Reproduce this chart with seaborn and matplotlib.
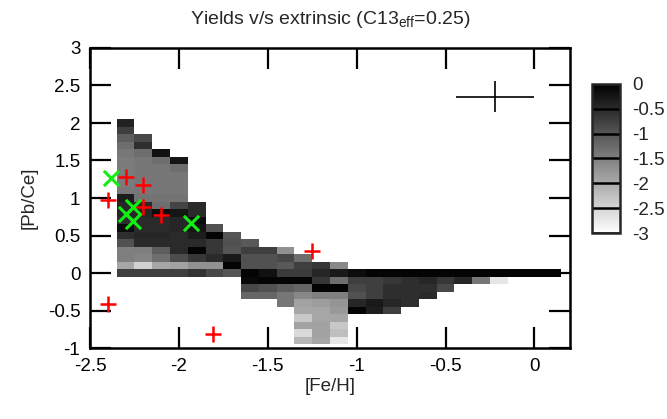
import numpy as np
import pandas as pd
import matplotlib
matplotlib.use("Agg")
import matplotlib.pyplot as plt
import seaborn as sns

# ---------------- data ----------------
# centre [Fe/H] of each grid column and [Pb/Ce] of the top cell in that column
col_feh = [-2.3, -2.2, -2.1, -2.0, -1.9, -1.8, -1.7, -1.6, -1.5, -1.4, -1.3, -1.2, -1.1,
           -1.0, -0.9, -0.8, -0.7, -0.6, -0.5, -0.4, -0.3, -0.2, -0.1, 0.0, 0.1]
col_top = [2.0, 1.8, 1.6, 1.5, 0.9, 0.6, 0.5, 0.4, 0.3, 0.3, 0.2, 0.1, 0.1,
           0.0, 0.0, 0.0, 0.0, 0.0, 0.0, 0.0, 0.0, 0.0, 0.0, 0.0, 0.0]
# cell values per column, top to bottom (0.1 dex steps in [Pb/Ce])
c_m23 = [-0.4, -0.75, -1.1, -1.3, -1.4, -1.45, -1.45, -1.45, -1.45, -1.4,
         -0.35, -0.45, -0.45, -0.55, -0.15, -0.55, -0.95, -1.5, -1.5, -1.95, -0.75]
c_m22 = [-0.85, -0.55, -1.3, -1.4, -1.4, -1.4, -1.4, -1.4, -1.35,
         -0.5, -0.45, -0.5, -0.5, -0.45, -0.5, -1.5, -1.55, -2.45, -0.75]
c_m21 = [-0.2, -1.3, -1.4, -1.4, -1.4, -1.4, -1.35, -1.3,
         -0.15, -0.5, -0.5, -0.45, -0.5, -1.1, -1.3, -1.95, -0.75]
c_m20 = [-0.25, -1.3, -1.4, -1.4, -1.4, -1.35, -0.8,
         -0.25, -0.45, -0.45, -0.5, -0.5, -0.5, -0.9, -1.9, -0.75]
c_m19 = [-0.5, -0.5, -0.15, -0.25, -0.35, -0.5, -0.05, -0.65, -1.7, -0.6]
c_m18 = [-0.95, -0.05, -0.65, -0.65, -0.5, -1.7, -0.85]
c_m17 = [-1.0, -0.95, -1.0, -0.3, -0.05, -1.0]
c_m16 = [-1.05, -0.75, -0.95, -0.95, -0.05, -0.1, -0.85, -1.2]
c_m15 = [-0.75, -0.95, -0.95, -0.2, -0.05, -0.95, -1.2]
c_m14 = [-1.7, -0.85, -1.05, -0.7, -0.05, -1.1, -1.4, -1.4]
c_m13 = [-1.3, -0.75, -0.7, -0.05, -1.2, -1.6, -1.9, -1.95, -2.35, -1.9, -2.55, -2.15]
c_m12 = [-0.65, -0.45, -0.65, -0.05, -1.5, -1.85, -1.95, -1.95, -1.9, -1.9, -1.95]
c_m11 = [-1.6, -0.3, -1.3, -0.05, -1.5, -1.75, -1.8, -1.95, -2.35, -2.25, -2.7]
c_m10 = [-0.15, -0.75, -0.85, -0.95, -0.45, -0.05]
c_m09 = [-0.05, -0.75, -0.75, -0.75, -0.3, -0.35]
c_m08 = [-0.05, -0.65, -0.55, -0.55, -0.45, -0.75]
c_m07 = [-0.05, -0.55, -0.55, -0.55, -0.55]
c_m06 = [-0.05, -0.45, -0.55, -0.5]
c_m05 = [-0.05, -0.65, -0.85]
c_m04 = [-0.05, -0.45]
c_m03 = [-0.05, -1.4]
c_m02 = [-0.05, -2.7]
c_m01 = [-0.05]
c_p00 = [-0.05]
c_p01 = [-0.05]
columns = [c_m23, c_m22, c_m21, c_m20, c_m19, c_m18, c_m17, c_m16, c_m15, c_m14,
           c_m13, c_m12, c_m11, c_m10, c_m09, c_m08, c_m07, c_m06, c_m05, c_m04,
           c_m03, c_m02, c_m01, c_p00, c_p01]

# observed extrinsic stars
obs_feh = [-2.40, -2.30, -2.20, -2.20, -2.10, -2.40, -1.81, -1.25]
obs_pbce = [0.97, 1.28, 1.17, 0.88, 0.77, -0.41, -0.81, 0.30]
# highlighted stars
hl_feh = [-2.38, -2.30, -2.26, -2.26, -1.93]
hl_pbce = [1.27, 0.79, 0.88, 0.69, 0.67]
# typical error
err_feh, err_pbce = [-0.22], [2.35]
err_dfeh, err_dpbce = [0.22], [0.21]

cbar_ticks = [0, -0.5, -1, -1.5, -2, -2.5, -3]
cbar_labels = ["0", "-0.5", "-1", "-1.5", "-2", "-2.5", "-3"]
x_ticks = [-2.5, -2, -1.5, -1, -0.5, 0]
x_labels = ["-2.5", "-2", "-1.5", "-1", "-0.5", "0"]
y_ticks = [-1, -0.5, 0, 0.5, 1, 1.5, 2, 2.5, 3]
y_labels = ["-1", "-0.5", "0", "0.5", "1", "1.5", "2", "2.5", "3"]

# ---------------- style ----------------
sns.set_style("ticks")
plt.rcParams["font.family"] = ["Liberation Sans", "DejaVu Sans"]
plt.rcParams["mathtext.fontset"] = "custom"
plt.rcParams["mathtext.rm"] = "Liberation Sans"
plt.rcParams["mathtext.it"] = "Liberation Sans"
plt.rcParams["axes.unicode_minus"] = False
FS = 13.5

rows = []
for x, top, vals in zip(col_feh, col_top, columns):
    for i, v in enumerate(vals):
        rows.append((x, round(top - 0.1 * i, 2), v))
df = pd.DataFrame(rows, columns=["feh", "pbce", "w"])
ycent = np.round(np.arange(-0.9, 2.05, 0.1), 1)
grid = df.pivot(index="pbce", columns="feh", values="w").reindex(ycent)
xc = np.array(grid.columns, dtype=float)
xedges = np.append(xc - 0.05, xc[-1] + 0.05)
yedges = np.append(ycent - 0.05, ycent[-1] + 0.05)

fig = plt.figure(figsize=(6.67, 4.19), dpi=100)
ax = fig.add_axes([90 / 667, 1 - 348 / 419, 480 / 667, 300 / 419])

mesh = ax.pcolormesh(xedges, yedges, grid.values, cmap="gray_r", vmin=-3, vmax=0,
                     shading="flat", edgecolors="none", antialiased=False, zorder=1)

sns.scatterplot(x=obs_feh, y=obs_pbce, marker="+", color="#ff0000", s=140,
                linewidth=1.8, ax=ax, zorder=3)
sns.scatterplot(x=hl_feh, y=hl_pbce, marker="x", color="#11ee11", s=120,
                linewidth=2.2, ax=ax, zorder=4)
ax.errorbar(err_feh, err_pbce, xerr=err_dfeh, yerr=err_dpbce, fmt="none",
            ecolor="black", elinewidth=1.2, capsize=0, zorder=3)

ax.set_xlim(-2.5, 0.2)
ax.set_ylim(-1, 3)
ax.set_xticks(x_ticks)
ax.set_xticklabels(x_labels)
ax.set_yticks(y_ticks)
ax.set_yticklabels(y_labels)
ax.tick_params(direction="in", length=15, width=1.6, top=True, right=True,
               labelsize=FS, pad=7, colors="black")
for sp in ax.spines.values():
    sp.set_linewidth(1.8)
    sp.set_color("black")
ax.set_xlabel("[Fe/H]", fontsize=FS, labelpad=2)
ax.set_ylabel("[Pb/Ce]", fontsize=FS, labelpad=7)
ax.set_title(r"Yields v/s extrinsic (C13$_{\mathrm{eff}}$=0.25)", fontsize=14, pad=17)

cax = fig.add_axes([592 / 667, 1 - 233 / 419, 28 / 667, 149 / 419])
cb = fig.colorbar(mesh, cax=cax, ticks=cbar_ticks)
cb.ax.set_yticklabels(cbar_labels)
cb.ax.tick_params(length=0, labelsize=FS, pad=9)
cb.outline.set_linewidth(1.8)
for t in cbar_ticks:
    cax.axhline(t, color="black", lw=1.8)

fig.savefig("out.png", dpi=100)
